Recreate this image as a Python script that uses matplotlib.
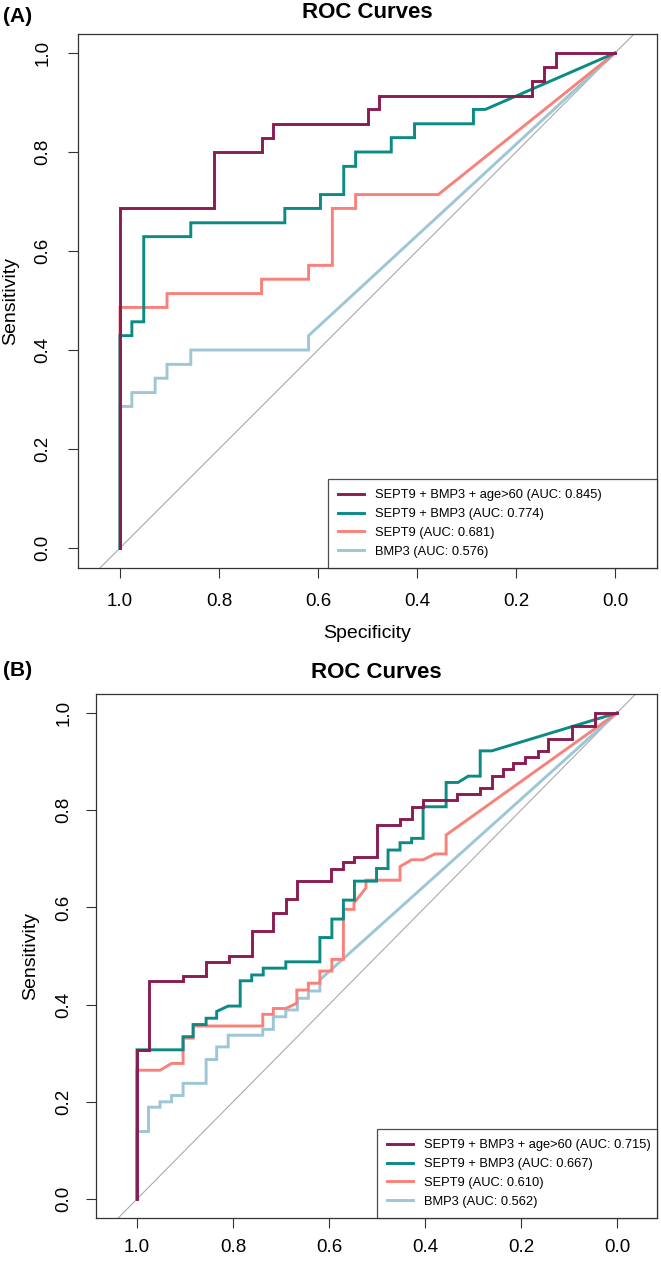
import matplotlib
matplotlib.use('Agg')
import matplotlib.pyplot as plt

plt.rcParams['font.family'] = ['Liberation Sans', 'DejaVu Sans']

W, H = 661, 1261

labels = ['SEPT9 + BMP3 + age>60', 'SEPT9 + BMP3', 'SEPT9', 'BMP3']
colors = ['#8B1C52', '#0B8A86', '#F8827B', '#9DC6D6']

# panel A (specificity, sensitivity) vertices
a_auc = [0.845, 0.774, 0.681, 0.576]
a_spec_age = [1.0, 1.0, 0.810, 0.810, 0.714, 0.714, 0.690, 0.690, 0.500, 0.500,
              0.476, 0.476, 0.167, 0.167, 0.143, 0.143, 0.119, 0.119, 0.0]
a_sens_age = [0.0, 0.686, 0.686, 0.800, 0.800, 0.829, 0.829, 0.857, 0.857, 0.886,
              0.886, 0.914, 0.914, 0.943, 0.943, 0.971, 0.971, 1.0, 1.0]
a_spec_both = [1.0, 1.0, 0.976, 0.976, 0.952, 0.952, 0.857, 0.857, 0.667, 0.667,
               0.595, 0.595, 0.548, 0.548, 0.524, 0.524, 0.452, 0.452, 0.405, 0.405,
               0.286, 0.286, 0.262, 0.0]
a_sens_both = [0.0, 0.429, 0.429, 0.457, 0.457, 0.629, 0.629, 0.657, 0.657, 0.686,
               0.686, 0.714, 0.714, 0.771, 0.771, 0.800, 0.800, 0.829, 0.829, 0.857,
               0.857, 0.886, 0.886, 1.0]
a_spec_sept9 = [1.0, 1.0, 0.905, 0.905, 0.714, 0.714, 0.619, 0.619, 0.571, 0.571,
                0.524, 0.524, 0.357, 0.0]
a_sens_sept9 = [0.0, 0.486, 0.486, 0.514, 0.514, 0.543, 0.543, 0.571, 0.571, 0.686,
                0.686, 0.714, 0.714, 1.0]
a_spec_bmp3 = [1.0, 1.0, 0.976, 0.976, 0.929, 0.929, 0.905, 0.905, 0.857, 0.857,
               0.619, 0.619, 0.0]
a_sens_bmp3 = [0.0, 0.286, 0.286, 0.314, 0.314, 0.343, 0.343, 0.371, 0.371, 0.400,
               0.400, 0.429, 1.0]

# panel B
b_auc = [0.715, 0.667, 0.610, 0.562]
b_spec_age = [1.0, 1.0, 0.976, 0.976, 0.904, 0.904, 0.856, 0.856, 0.809, 0.809,
              0.761, 0.761, 0.716, 0.716, 0.690, 0.690, 0.666, 0.666, 0.596, 0.596,
              0.571, 0.571, 0.547, 0.547, 0.501, 0.501, 0.452, 0.452, 0.428, 0.428,
              0.404, 0.404, 0.334, 0.334, 0.285, 0.285, 0.261, 0.261, 0.237, 0.237,
              0.216, 0.216, 0.192, 0.192, 0.164, 0.164, 0.143, 0.143, 0.094, 0.094,
              0.046, 0.046, 0.0]
b_sens_age = [0.0, 0.307, 0.307, 0.449, 0.449, 0.459, 0.459, 0.488, 0.488, 0.500,
              0.500, 0.551, 0.551, 0.589, 0.589, 0.617, 0.617, 0.655, 0.655, 0.679,
              0.679, 0.693, 0.693, 0.704, 0.704, 0.770, 0.770, 0.781, 0.781, 0.807,
              0.807, 0.820, 0.820, 0.833, 0.833, 0.845, 0.845, 0.870, 0.870, 0.884,
              0.884, 0.897, 0.897, 0.909, 0.909, 0.922, 0.922, 0.947, 0.947, 0.973,
              0.973, 1.0, 1.0]
b_spec_both = [1.0, 1.0, 0.904, 0.904, 0.883, 0.883, 0.856, 0.856, 0.834, 0.834,
               0.810, 0.785, 0.785, 0.761, 0.761, 0.737, 0.737, 0.690, 0.690, 0.619,
               0.619, 0.594, 0.594, 0.570, 0.570, 0.547, 0.547, 0.501, 0.501, 0.477,
               0.477, 0.452, 0.452, 0.428, 0.428, 0.404, 0.404, 0.356, 0.356, 0.331,
               0.310, 0.285, 0.285, 0.261, 0.0]
b_sens_both = [0.0, 0.307, 0.307, 0.334, 0.334, 0.359, 0.359, 0.372, 0.372, 0.386,
               0.397, 0.397, 0.449, 0.449, 0.461, 0.461, 0.475, 0.475, 0.488, 0.488,
               0.538, 0.538, 0.576, 0.576, 0.615, 0.615, 0.654, 0.654, 0.680, 0.680,
               0.718, 0.718, 0.733, 0.733, 0.742, 0.742, 0.807, 0.807, 0.857, 0.857,
               0.870, 0.870, 0.922, 0.922, 1.0]
b_spec_sept9 = [1.0, 1.0, 0.952, 0.928, 0.904, 0.904, 0.883, 0.883, 0.738, 0.738,
                0.716, 0.716, 0.690, 0.667, 0.667, 0.643, 0.643, 0.619, 0.619, 0.594,
                0.594, 0.570, 0.570, 0.548, 0.548, 0.523, 0.523, 0.452, 0.452, 0.428,
                0.404, 0.379, 0.356, 0.356, 0.0]
b_sens_sept9 = [0.0, 0.265, 0.265, 0.279, 0.279, 0.331, 0.331, 0.356, 0.356, 0.380,
                0.380, 0.392, 0.392, 0.403, 0.430, 0.430, 0.444, 0.444, 0.469, 0.469,
                0.493, 0.493, 0.596, 0.596, 0.609, 0.640, 0.656, 0.656, 0.684, 0.698,
                0.698, 0.710, 0.710, 0.749, 1.0]
b_spec_bmp3 = [1.0, 1.0, 0.976, 0.976, 0.952, 0.952, 0.928, 0.928, 0.904, 0.904,
               0.856, 0.856, 0.834, 0.834, 0.810, 0.810, 0.738, 0.738, 0.716, 0.716,
               0.690, 0.690, 0.666, 0.666, 0.643, 0.643, 0.619, 0.619, 0.0]
b_sens_bmp3 = [0.0, 0.139, 0.139, 0.189, 0.189, 0.200, 0.200, 0.213, 0.213, 0.238,
               0.238, 0.287, 0.287, 0.313, 0.313, 0.337, 0.337, 0.349, 0.349, 0.375,
               0.375, 0.389, 0.389, 0.413, 0.413, 0.428, 0.428, 0.451, 1.0]

ticks = [1.0, 0.8, 0.6, 0.4, 0.2, 0.0]
tick_labels = ['%.1f' % t for t in ticks]


def box(l, t, r, b):
    return [l / W, 1 - b / H, (r - l) / W, (b - t) / H]


def fx(x):
    return x / W


def fy(y):
    return 1 - y / H


def draw_panel(ax, curves, auc, xlim, ylim, ypad, xpad, leg_box):
    ax.axline((1, 0), (0, 1), color='#aaaaaa', lw=0.8, zorder=1)
    handles = []
    for i in reversed(range(len(curves))):
        spec, sens = curves[i]
        line, = ax.plot(spec, sens, color=colors[i], lw=2.1,
                        solid_joinstyle='miter', zorder=2 + (len(curves) - i))
        handles.insert(0, line)
    ax.set_xlim(*xlim)
    ax.set_ylim(*ylim)
    ax.set_xticks(ticks)
    ax.set_xticklabels(tick_labels)
    ax.set_yticks(ticks)
    ax.set_yticklabels(tick_labels, rotation=90, va='center')
    ax.tick_params(axis='both', length=7.5, width=0.8, color='#333333',
                   labelsize=13.5)
    ax.tick_params(axis='y', pad=ypad)
    ax.tick_params(axis='x', pad=xpad)
    for s in ax.spines.values():
        s.set_color('#333333')
        s.set_linewidth(0.9)
    leg_labels = ['%s (AUC: %.3f)' % (labels[i], auc[i]) for i in range(len(labels))]
    leg = ax.legend(handles, leg_labels, loc='lower left', bbox_to_anchor=leg_box,
                    mode='expand', borderaxespad=0, fontsize=9.3, frameon=True,
                    fancybox=False, edgecolor='#222222', handlelength=1.95,
                    handletextpad=0.85, labelspacing=0.52, borderpad=0.8)
    leg.get_frame().set_linewidth(0.9)
    for h in leg.legend_handles:
        h.set_linewidth(2.1)


fig = plt.figure(figsize=(W / 100, H / 100), dpi=100)

ax_a = fig.add_axes(box(78, 34, 657, 568))
draw_panel(ax_a,
           [(a_spec_age, a_sens_age), (a_spec_both, a_sens_both),
            (a_spec_sept9, a_sens_sept9), (a_spec_bmp3, a_sens_bmp3)],
           a_auc, (1.0848, -0.0848), (-0.0404, 1.0384), 11.5, 10.5,
           (0.432, 0.0, 0.568, 0.172))

ax_b = fig.add_axes(box(96, 694, 657, 1218))
draw_panel(ax_b,
           [(b_spec_age, b_sens_age), (b_spec_both, b_sens_both),
            (b_spec_sept9, b_sens_sept9), (b_spec_bmp3, b_sens_bmp3)],
           b_auc, (1.0854, -0.0833), (-0.039, 1.039), 9.5, 7.5,
           (0.501, 0.0, 0.499, 0.170))

fig.text(fx(3), fy(16), '(A)', fontsize=15, fontweight='bold', ha='left', va='center')
fig.text(fx(367), fy(12), 'ROC Curves', fontsize=16, fontweight='bold',
         ha='center', va='center')
fig.text(fx(11), fy(301), 'Sensitivity', fontsize=14, rotation=90,
         ha='center', va='center')
fig.text(fx(367), fy(634), 'Specificity', fontsize=14, ha='center', va='center')

fig.text(fx(3), fy(670), '(B)', fontsize=15, fontweight='bold', ha='left', va='center')
fig.text(fx(376), fy(672), 'ROC Curves', fontsize=16, fontweight='bold',
         ha='center', va='center')
fig.text(fx(31), fy(956), 'Sensitivity', fontsize=14, rotation=90,
         ha='center', va='center')

fig.savefig('out.png', dpi=100)
